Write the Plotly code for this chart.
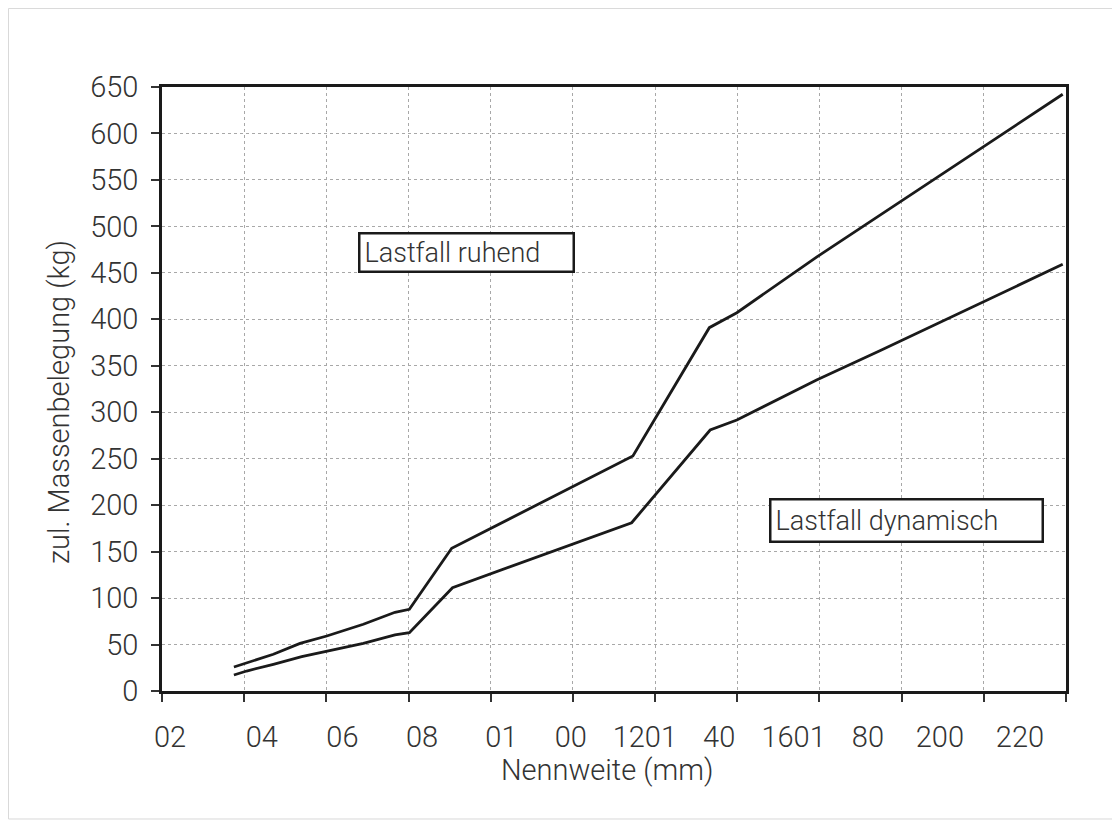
import plotly.graph_objects as go

# ---- data ----
ruhend_x = [17.5, 27.1, 33.6, 40.1, 49.0, 56.7, 60.2, 70.5, 114.6, 133.2, 139.9, 159.3, 219.2]
ruhend_y = [25.8, 39.5, 51.3, 59.2, 71.8, 84.7, 87.9, 153.6, 252.9, 391.0, 407.1, 467.0, 642.2]

dyn_x = [17.5, 20.6, 27.1, 34.0, 49.0, 56.7, 60.2, 70.7, 114.3, 133.4, 139.9, 159.3, 174.7, 219.2]
dyn_y = [17.2, 21.5, 28.7, 36.9, 51.3, 60.3, 62.7, 111.2, 181.1, 280.9, 291.7, 334.7, 366.2, 459.2]

tick_label_pos = [1.95, 24.3, 43.9, 63.3, 82.6, 99.5, 117.5, 135.6, 153.7, 171.8, 189.3, 208.8]
tick_label_text = ["02", "04", "06", "08", "01", "00", "1201", "40", "1601", "80", "200", "220"]

x_title = "Nennweite (mm)"
y_title = "zul. Massenbelegung (kg)"
label_ruhend = "Lastfall ruhend"
label_dyn = "Lastfall dynamisch"

FONT = "Roboto"
TXT = "#333333"
LINE = "#1a1a1a"
TICKFS = 29

fig = go.Figure()
fig.add_trace(go.Scatter(x=ruhend_x, y=ruhend_y, mode="lines",
                         line=dict(color=LINE, width=2.8), showlegend=False, hoverinfo="skip"))
fig.add_trace(go.Scatter(x=dyn_x, y=dyn_y, mode="lines",
                         line=dict(color=LINE, width=2.8), showlegend=False, hoverinfo="skip"))

fig.update_layout(
    width=1120, height=825,
    margin=dict(l=154, r=62, t=79, b=142),
    paper_bgcolor="white", plot_bgcolor="white",
    font=dict(family=FONT, size=TICKFS, color=TXT, weight=300),
    showlegend=False,
    xaxis=dict(range=[0, 220], tick0=0, dtick=20, showticklabels=False,
               ticks="outside", ticklen=8, tickwidth=1.5, tickcolor="#333333",
               showline=True, linecolor=LINE, linewidth=2.5, mirror=True,
               showgrid=True, gridcolor="#a8a8a8", griddash="dot", gridwidth=1,
               zeroline=False),
    xaxis2=dict(range=[0, 220], overlaying="x", side="bottom", anchor="y",
                tickmode="array", tickvals=tick_label_pos, ticktext=tick_label_text,
                ticks="", showline=False, showgrid=False, zeroline=False,
                ticklabelstandoff=26, tickfont=dict(size=TICKFS, color=TXT, weight=300)),
    yaxis=dict(range=[0, 650], tick0=0, dtick=50,
               ticks="outside", ticklen=8, tickwidth=1.5, tickcolor="#333333",
               showline=True, linecolor=LINE, linewidth=2.5, mirror=True,
               showgrid=True, gridcolor="#a8a8a8", griddash="dot", gridwidth=1,
               zeroline=False, ticklabelstandoff=7,
               tickfont=dict(size=TICKFS, color=TXT, weight=300)),
)

# invisible trace on xaxis2 so the overlay axis renders
fig.add_trace(go.Scatter(x=[0, 220], y=[None, None], xaxis="x2", mode="lines",
                         showlegend=False, hoverinfo="skip"))

# axis titles
fig.add_annotation(x=0.4923, y=-0.1308, xref="paper", yref="paper", text=x_title,
                   showarrow=False, xanchor="center", yanchor="middle",
                   font=dict(size=29, color=TXT, weight=300))
fig.add_annotation(x=-0.1139, y=0.4785, xref="paper", yref="paper", text=y_title,
                   showarrow=False, textangle=-90, xanchor="center", yanchor="middle",
                   font=dict(size=29, color=TXT, weight=300))

fig.add_annotation(x=74.0, y=471.4, xref="x", yref="y", text=label_ruhend,
                   showarrow=False, align="left", width=204, height=28,
                   bordercolor=LINE, borderwidth=2.5, borderpad=4, bgcolor="white",
                   font=dict(size=27, color=TXT, weight=300))
fig.add_annotation(x=181.3, y=183.0, xref="x", yref="y", text=label_dyn,
                   showarrow=False, align="left", width=262, height=32,
                   bordercolor=LINE, borderwidth=2.5, borderpad=4, bgcolor="white",
                   font=dict(size=27, color=TXT, weight=300))

# outer chart-area frame
fig.add_shape(type="rect", xref="paper", yref="paper",
              x0=-0.1698, x1=1.0531, y0=-0.2119, y1=1.130,
              line=dict(color="#d9d9d9", width=1), layer="below")

fig.write_html("out.html")
